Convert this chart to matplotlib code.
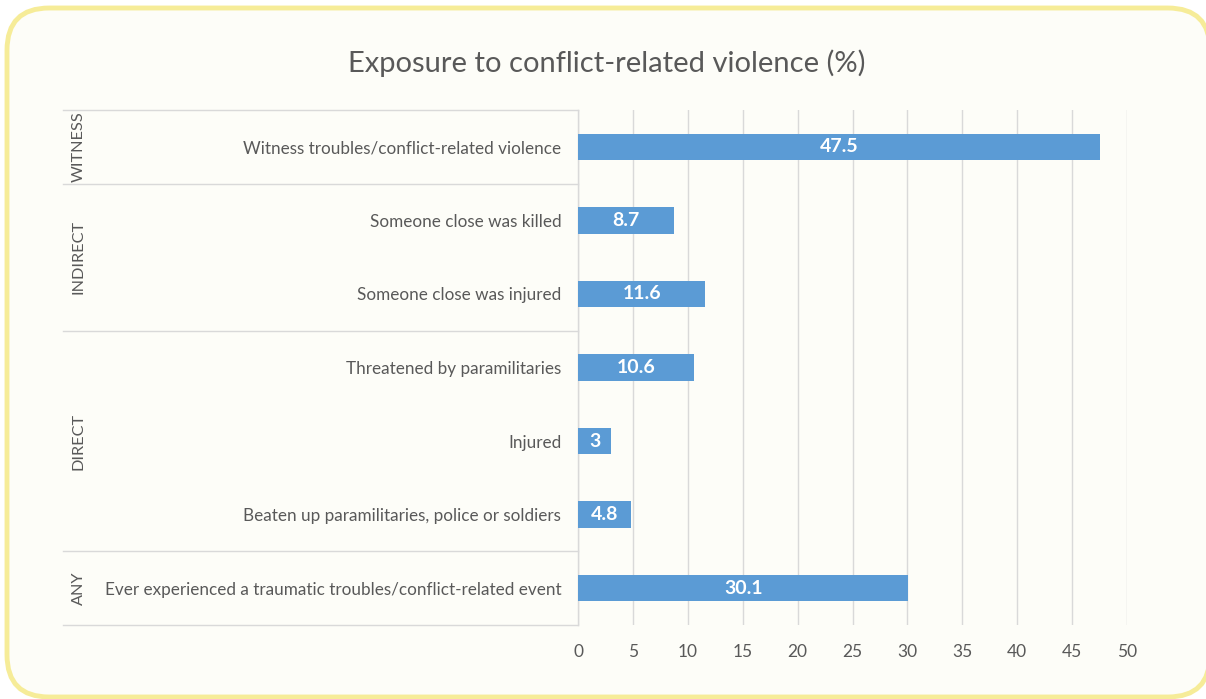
import matplotlib.pyplot as plt
from matplotlib.patches import FancyBboxPatch

# data, top to bottom
labels = ['Witness troubles/conflict-related violence',
          'Someone close was killed',
          'Someone close was injured',
          'Threatened by paramilitaries',
          'Injured',
          'Beaten up paramilitaries, police or soldiers',
          'Ever experienced a traumatic troubles/conflict-related event']
values = [47.5, 8.7, 11.6, 10.6, 3, 4.8, 30.1]
groups = ['WITNESS', 'INDIRECT', 'DIRECT', 'ANY']
group_sizes = [1, 2, 3, 1]
xticks = [0, 5, 10, 15, 20, 25, 30, 35, 40, 45, 50]

plt.rcParams['font.family'] = ['Lato', 'DejaVu Sans']
txt = '#595959'
grid = '#D9D9D9'
bg = '#FDFDF8'
bar_color = '#5B9BD5'

W, H = 1206, 699
fig = plt.figure(figsize=(W / 100, H / 100), dpi=100)
fig.patch.set_facecolor('white')

# rounded yellow frame, sits behind the axes
frame = FancyBboxPatch((7 / W, 2 / H), 1203 / W, 689 / H,
                       boxstyle='round,pad=0,rounding_size=0.035',
                       transform=fig.transFigure, facecolor=bg,
                       edgecolor='#F6EC98', linewidth=3.5,
                       mutation_aspect=W / H, zorder=-5)
fig.patches.append(frame)

x0, x1, y_top, y_bot = 578, 1127, 110, 625
ax = fig.add_axes([x0 / W, (H - y_bot) / H, (x1 - x0) / W, (y_bot - y_top) / H])
ax.set_facecolor('none')

n = len(values)
ypos = [n - 0.5 - i for i in range(n)]
ax.barh(ypos, values, height=0.36, color=bar_color, zorder=3)
for y, v in zip(ypos, values):
    ax.text(v / 2, y, f'{v:g}', color='white', fontsize=14, fontweight='bold',
            ha='center', va='center', zorder=4)

ax.set_xlim(0, 50)
ax.set_ylim(0, n)
ax.set_xticks(xticks)
ax.set_yticks(ypos)
ax.set_yticklabels(labels)
ax.tick_params(axis='y', length=0, pad=12, labelsize=12.3, labelcolor=txt)
ax.tick_params(axis='x', length=0, pad=14, labelsize=12.5, labelcolor=txt)
ax.grid(axis='x', color=grid, linewidth=1, zorder=0)
for s in ['top', 'right', 'bottom']:
    ax.spines[s].set_visible(False)
ax.spines['left'].set_color(grid)
ax.spines['left'].set_linewidth(1)

# group separators and group labels
trans = ax.get_yaxis_transform()
left = (63 - x0) / (x1 - x0)
bounds = [n]
for g in group_sizes:
    bounds.append(bounds[-1] - g)
for b in bounds:
    ax.plot([left, 0], [b, b], color=grid, linewidth=1, transform=trans, clip_on=False)
for name, top, bot in zip(groups, bounds[:-1], bounds[1:]):
    ax.text((79 - x0) / (x1 - x0), (top + bot) / 2, name, rotation=90,
            ha='center', va='center', fontsize=11.7, color=txt, transform=trans)

fig.text(607 / W, 1 - 63 / H, 'Exposure to conflict-related violence (%)',
         ha='center', va='center', fontsize=21, color=txt)

fig.savefig('out.png', dpi=100)
